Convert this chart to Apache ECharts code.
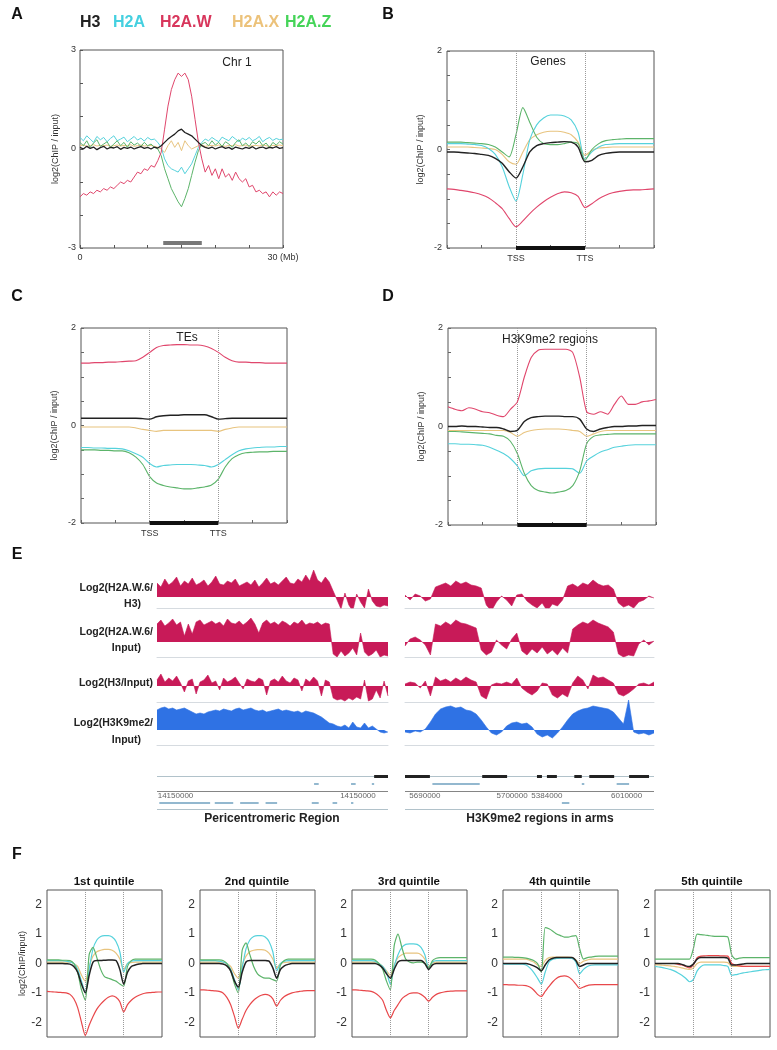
<!DOCTYPE html>
<html>
<head>
<meta charset="utf-8">
<script src="https://cdn.jsdelivr.net/npm/echarts@6/dist/echarts.min.js"></script>
<style>
  html, body { margin: 0; padding: 0; background: #fff; }
  #main { width: 777px; height: 1050px; }
</style>
</head>
<body>
<div id="main"></div>
<script>
// ---------- 数据 ----------
const histones = ['H3', 'H2A', 'H2A.W', 'H2A.X', 'H2A.Z']

// A: Chr 1, 0.5 Mb 一个点
const chr1H3 = [0.05,0.0,0.08,0.02,0.06,-0.02,0.04,0.08,0.0,0.05,0.03,0.07,-0.01,0.05,0.02,0.06,0.0,0.04,0.07,0.02,0.05,0.0,0.06,0.03,0.1,0.2,0.3,0.38,0.45,0.55,0.6,0.5,0.45,0.4,0.3,0.2,0.1,0.05,0.02,0.06,0.0,0.04,0.07,0.02,0.05,-0.01,0.06,0.03,0.0,0.05,0.02,0.07,0.0,0.04,0.06,0.01,0.05,0.03,0.07,0.02,0.04]
const chr1H2A = [0.35,0.25,0.4,0.3,0.2,0.38,0.28,0.35,0.22,0.32,0.4,0.25,0.3,0.36,0.22,0.3,0.38,0.27,0.33,0.24,0.35,0.28,0.3,0.2,0.05,-0.3,-0.5,-0.6,-0.65,-0.7,-0.55,-0.75,-0.6,-0.45,-0.2,0.05,0.2,0.3,0.25,0.35,0.28,0.22,0.36,0.3,0.25,0.38,0.3,0.22,0.33,0.27,0.35,0.25,0.3,0.38,0.22,0.3,0.35,0.26,0.32,0.28,0.3]
const chr1H2AW = [-1.45,-1.35,-1.4,-1.3,-1.35,-1.25,-1.3,-1.2,-1.25,-1.15,-1.2,-1.1,-1.0,-1.05,-0.95,-1.0,-0.85,-0.7,-0.75,-0.6,-0.65,-0.5,-0.55,-0.35,-0.1,0.6,1.3,1.8,2.1,2.3,2.2,2.3,2.1,1.6,0.9,0.2,-0.3,-0.7,-0.5,-0.8,-0.6,-0.9,-0.6,-0.85,-0.75,-0.95,-0.7,-0.9,-1.0,-0.9,-1.15,-1.1,-1.3,-1.25,-1.35,-1.3,-1.45,-1.3,-1.4,-1.3,-1.35]
const chr1H2AX = [0.1,0.12,0.08,0.1,0.13,0.09,0.11,0.1,0.12,0.08,0.1,0.12,0.09,0.11,0.1,0.13,0.08,0.1,0.12,0.09,0.1,0.11,0.08,0.05,0.0,-0.1,0.1,0.25,0.05,0.2,-0.05,0.25,0.1,0.0,0.05,0.1,0.12,0.08,0.1,0.11,0.09,0.12,0.1,0.08,0.11,0.1,0.13,0.09,0.1,0.12,0.08,0.1,0.11,0.09,0.12,0.1,0.08,0.11,0.1,0.12,0.1]
const chr1H2AZ = [0.2,0.1,0.25,0.05,0.18,0.28,0.08,0.15,0.22,0.05,0.15,0.25,0.1,0.2,0.05,0.22,0.12,0.18,0.08,0.2,0.1,0.15,0.05,0.0,-0.2,-0.6,-0.9,-1.2,-1.4,-1.6,-1.75,-1.5,-1.2,-0.8,-0.4,-0.05,0.15,0.2,0.1,0.25,0.12,0.2,0.08,0.22,0.15,0.05,0.2,0.28,0.1,0.18,0.08,0.22,0.15,0.25,0.1,0.18,0.05,0.2,0.12,0.22,0.15]
const centromereSpan = [12.3, 18]

// B: Genes (0-30, TSS=10, TTS=20)
const genesH3 = [-0.05,-0.05,-0.06,-0.07,-0.08,-0.1,-0.12,-0.18,-0.28,-0.45,-0.58,-0.35,-0.05,0.08,0.12,0.14,0.15,0.16,0.15,0.05,-0.25,-0.22,-0.12,-0.08,-0.06,-0.05,-0.05,-0.05,-0.05,-0.05,-0.05]
const genesH2A = [0.12,0.12,0.12,0.11,0.1,0.08,0.02,-0.1,-0.35,-0.75,-1.05,-0.5,0.2,0.5,0.64,0.7,0.7,0.68,0.6,0.35,-0.2,-0.05,0.05,0.1,0.11,0.12,0.12,0.12,0.12,0.12,0.12]
const genesH2AW = [-0.8,-0.81,-0.83,-0.85,-0.88,-0.92,-0.98,-1.08,-1.2,-1.4,-1.57,-1.45,-1.3,-1.17,-1.06,-0.97,-0.9,-0.86,-0.88,-0.95,-1.18,-1.1,-1.0,-0.93,-0.88,-0.85,-0.83,-0.82,-0.82,-0.81,-0.8]
const genesH2AX = [0.05,0.05,0.05,0.05,0.04,0.03,0.02,0.0,-0.1,-0.25,-0.3,-0.05,0.2,0.3,0.35,0.37,0.37,0.35,0.3,0.15,-0.12,-0.02,0.03,0.04,0.05,0.05,0.05,0.05,0.05,0.05,0.05]
const genesH2AZ = [0.15,0.15,0.15,0.14,0.13,0.12,0.1,0.05,-0.05,-0.15,0.3,0.85,0.55,0.25,0.12,0.1,0.1,0.12,0.15,0.12,-0.22,0.0,0.12,0.18,0.2,0.21,0.22,0.22,0.22,0.22,0.22]

// C: TEs
const tesH3 = [0.15,0.15,0.15,0.15,0.15,0.15,0.15,0.15,0.15,0.14,0.13,0.18,0.2,0.21,0.21,0.22,0.22,0.22,0.22,0.18,0.13,0.14,0.15,0.15,0.15,0.15,0.15,0.15,0.15,0.15,0.15]
const tesH2A = [-0.45,-0.45,-0.46,-0.46,-0.47,-0.47,-0.48,-0.52,-0.58,-0.65,-0.78,-0.85,-0.82,-0.81,-0.8,-0.8,-0.8,-0.81,-0.82,-0.85,-0.8,-0.7,-0.6,-0.52,-0.48,-0.46,-0.45,-0.44,-0.44,-0.43,-0.43]
const tesH2AW = [1.28,1.28,1.29,1.29,1.3,1.3,1.31,1.32,1.33,1.4,1.5,1.6,1.64,1.65,1.66,1.66,1.65,1.65,1.63,1.58,1.5,1.4,1.33,1.3,1.3,1.29,1.29,1.28,1.28,1.28,1.28]
const tesH2AX = [-0.03,-0.03,-0.03,-0.03,-0.03,-0.03,-0.03,-0.03,-0.05,-0.08,-0.1,-0.12,-0.1,-0.1,-0.1,-0.1,-0.1,-0.1,-0.1,-0.1,-0.12,-0.08,-0.05,-0.03,-0.03,-0.03,-0.03,-0.03,-0.03,-0.03,-0.03]
const tesH2AZ = [-0.5,-0.5,-0.5,-0.51,-0.51,-0.52,-0.52,-0.56,-0.65,-0.8,-1.05,-1.18,-1.23,-1.26,-1.28,-1.3,-1.3,-1.28,-1.26,-1.22,-1.1,-0.85,-0.68,-0.6,-0.56,-0.55,-0.54,-0.54,-0.53,-0.53,-0.53]

// D: H3K9me2 regions
const k9H3 = [0.0,0.0,0.01,0.0,0.0,-0.01,-0.02,-0.02,-0.05,-0.1,-0.08,0.1,0.18,0.2,0.21,0.21,0.21,0.2,0.2,0.15,-0.05,-0.1,-0.05,-0.02,0.0,0.0,0.01,0.01,0.02,0.02,0.02]
const k9H2A = [-0.35,-0.35,-0.36,-0.36,-0.37,-0.38,-0.42,-0.48,-0.55,-0.65,-0.8,-1.0,-0.9,-0.86,-0.85,-0.85,-0.85,-0.85,-0.86,-0.95,-0.7,-0.6,-0.52,-0.47,-0.42,-0.4,-0.38,-0.37,-0.37,-0.37,-0.37]
const k9H2AW = [0.4,0.35,0.32,0.38,0.35,0.3,0.28,0.23,0.2,0.35,0.5,1.0,1.4,1.55,1.57,1.57,1.57,1.57,1.5,1.0,0.3,0.25,0.3,0.25,0.45,0.62,0.45,0.45,0.5,0.52,0.55]
const k9H2AX = [-0.08,-0.08,-0.08,-0.08,-0.08,-0.08,-0.08,-0.08,-0.08,-0.12,-0.2,-0.12,-0.08,-0.06,-0.05,-0.05,-0.05,-0.06,-0.08,-0.1,-0.2,-0.15,-0.1,-0.08,-0.08,-0.08,-0.08,-0.08,-0.08,-0.08,-0.08]
const k9H2AZ = [-0.1,-0.1,-0.11,-0.12,-0.13,-0.14,-0.15,-0.18,-0.2,-0.3,-0.55,-0.95,-1.2,-1.3,-1.33,-1.35,-1.33,-1.3,-1.2,-0.9,-0.35,-0.2,-0.17,-0.16,-0.15,-0.15,-0.15,-0.15,-0.15,-0.15,-0.15]

// F: 五个五分位
const q1H3 = [0,0,0,0,0,-0.01,-0.02,-0.1,-0.3,-0.7,-1.0,-0.4,0.05,0.1,0.1,0.11,0.12,0.12,0.1,-0.2,-0.7,-0.3,-0.1,-0.05,-0.02,0,0,0,0,0,0]
const q1H2A = [0.1,0.1,0.1,0.1,0.1,0.08,0.05,0.0,-0.2,-0.6,-1.0,-0.2,0.5,0.8,0.92,0.95,0.95,0.9,0.75,0.4,-0.3,0.0,0.08,0.1,0.1,0.1,0.1,0.1,0.1,0.1,0.1]
const q1H2AW = [-0.95,-0.96,-0.97,-0.98,-0.99,-1.0,-1.05,-1.2,-1.5,-2.0,-2.45,-2.1,-1.8,-1.55,-1.38,-1.25,-1.15,-1.1,-1.15,-1.3,-1.65,-1.4,-1.25,-1.15,-1.08,-1.03,-1.0,-0.99,-0.98,-0.97,-0.97]
const q1H2AX = [0.05,0.05,0.05,0.05,0.05,0.05,0.05,0.0,-0.1,-0.4,-0.6,-0.1,0.25,0.4,0.45,0.48,0.48,0.45,0.35,0.15,-0.2,0.0,0.03,0.05,0.05,0.05,0.05,0.05,0.05,0.05,0.05]
const q1H2AZ = [0.12,0.12,0.12,0.12,0.11,0.11,0.1,0.0,-0.3,-0.9,-1.25,0.3,0.55,0.2,-0.2,-0.45,-0.5,-0.55,-0.6,-0.7,-0.78,-0.1,0.1,0.15,0.15,0.15,0.15,0.15,0.15,0.15,0.15]

const q2H3 = [0,0,0,0,0,0,-0.02,-0.08,-0.25,-0.6,-0.8,-0.3,0.05,0.1,0.1,0.1,0.1,0.1,0.08,-0.15,-0.5,-0.2,-0.08,-0.03,0,0,0,0,0,0,0]
const q2H2A = [0.1,0.1,0.1,0.1,0.1,0.08,0.05,0.0,-0.2,-0.55,-0.9,-0.15,0.5,0.8,0.92,0.95,0.95,0.9,0.75,0.4,-0.25,0.0,0.08,0.1,0.1,0.1,0.1,0.1,0.1,0.1,0.1]
const q2H2AW = [-0.9,-0.9,-0.91,-0.92,-0.93,-0.95,-1.0,-1.15,-1.4,-1.8,-2.2,-1.9,-1.6,-1.4,-1.25,-1.15,-1.08,-1.05,-1.08,-1.2,-1.45,-1.25,-1.12,-1.05,-1.0,-0.97,-0.95,-0.93,-0.92,-0.92,-0.92]
const q2H2AX = [0.05,0.05,0.05,0.05,0.05,0.05,0.05,0.0,-0.1,-0.35,-0.5,-0.05,0.25,0.4,0.45,0.47,0.47,0.45,0.35,0.15,-0.15,0.0,0.03,0.05,0.05,0.05,0.05,0.05,0.05,0.05,0.05]
const q2H2AZ = [0.12,0.12,0.12,0.12,0.12,0.12,0.1,0.0,-0.25,-0.7,-1.0,0.45,0.7,0.3,-0.1,-0.35,-0.45,-0.5,-0.5,-0.55,-0.6,-0.05,0.1,0.15,0.15,0.15,0.15,0.15,0.15,0.15,0.15]

const q3H3 = [0,0,0,0,0,0,0,-0.05,-0.15,-0.35,-0.5,-0.2,0.05,0.1,0.1,0.1,0.1,0.1,0.1,0.0,-0.2,-0.05,0,0,0,0,0,0,0,0,0]
const q3H2A = [0.1,0.1,0.1,0.1,0.1,0.1,0.08,0.0,-0.1,-0.3,-0.7,-0.1,0.3,0.55,0.65,0.67,0.67,0.65,0.55,0.3,-0.15,0.05,0.1,0.1,0.1,0.1,0.1,0.1,0.1,0.1,0.1]
const q3H2AW = [-0.9,-0.9,-0.91,-0.92,-0.93,-0.95,-1.0,-1.1,-1.25,-1.6,-1.85,-1.6,-1.4,-1.2,-1.1,-1.02,-1.0,-1.0,-1.05,-1.15,-1.28,-1.15,-1.05,-1.0,-0.97,-0.95,-0.94,-0.93,-0.93,-0.93,-0.93]
const q3H2AX = [0.05,0.05,0.05,0.05,0.05,0.05,0.05,0.0,-0.1,-0.25,-0.4,-0.05,0.2,0.3,0.35,0.35,0.35,0.35,0.3,0.15,-0.1,0.02,0.05,0.05,0.05,0.05,0.05,0.05,0.05,0.05,0.05]
const q3H2AZ = [0.15,0.15,0.15,0.15,0.15,0.15,0.12,0.0,-0.2,-0.6,-0.9,0.6,1.0,0.55,0.15,0.05,0.02,0.05,0.05,0.0,-0.15,0.1,0.18,0.2,0.2,0.2,0.2,0.2,0.2,0.2,0.2]

const q4H3 = [0,0,0,0,0,0,0,-0.03,-0.08,-0.15,-0.25,-0.05,0.12,0.18,0.2,0.2,0.2,0.2,0.2,0.1,-0.1,-0.05,0,0,0,0,0,0,0,0,0]
const q4H2A = [-0.02,-0.02,-0.02,-0.02,-0.02,-0.02,-0.05,-0.15,-0.3,-0.5,-0.7,-0.3,0.05,0.15,0.17,0.18,0.18,0.18,0.17,0.05,-0.35,-0.2,-0.1,-0.06,-0.05,-0.05,-0.05,-0.05,-0.05,-0.05,-0.05]
const q4H2AW = [-0.72,-0.72,-0.73,-0.73,-0.74,-0.74,-0.75,-0.8,-0.9,-1.05,-1.12,-0.95,-0.78,-0.62,-0.5,-0.44,-0.42,-0.45,-0.55,-0.7,-0.85,-0.8,-0.75,-0.73,-0.72,-0.72,-0.72,-0.72,-0.72,-0.72,-0.72]
const q4H2AX = [0.15,0.15,0.15,0.15,0.15,0.15,0.15,0.1,0.05,-0.05,-0.1,0.1,0.2,0.22,0.22,0.22,0.22,0.22,0.2,0.12,0.0,0.08,0.12,0.15,0.15,0.15,0.15,0.15,0.15,0.15,0.15]
const q4H2AZ = [0.22,0.22,0.22,0.21,0.21,0.2,0.18,0.15,0.1,0.0,-0.3,1.22,1.18,1.1,1.0,0.95,0.9,0.9,0.93,0.95,0.5,0.15,0.2,0.22,0.24,0.25,0.25,0.25,0.25,0.25,0.25]

const q5H3 = [0,0,0,0,0,0,0,-0.03,-0.08,-0.1,-0.02,0.15,0.2,0.2,0.2,0.2,0.2,0.2,0.2,0.18,-0.05,-0.05,-0.03,-0.02,0,0,0,0,0,0,0]
const q5H2A = [-0.1,-0.12,-0.14,-0.17,-0.2,-0.25,-0.32,-0.4,-0.5,-0.62,-0.55,-0.25,-0.1,-0.05,-0.05,-0.05,-0.05,-0.05,-0.07,-0.1,-0.4,-0.38,-0.35,-0.32,-0.3,-0.28,-0.26,-0.24,-0.22,-0.21,-0.2]
const q5H2AW = [0,0,0,0,0,0,-0.03,-0.05,-0.1,-0.15,-0.05,0.2,0.25,0.26,0.27,0.27,0.27,0.26,0.26,0.25,0.0,-0.05,-0.08,-0.1,-0.1,-0.1,-0.1,-0.1,-0.1,-0.1,-0.1]
const q5H2AX = [-0.05,-0.05,-0.06,-0.07,-0.08,-0.1,-0.12,-0.15,-0.18,-0.2,-0.15,0.0,0.05,0.05,0.05,0.05,0.05,0.05,0.05,0.03,-0.1,-0.1,-0.1,-0.1,-0.1,-0.1,-0.1,-0.1,-0.1,-0.1,-0.1]
const q5H2AZ = [0.15,0.15,0.15,0.15,0.15,0.15,0.15,0.15,0.15,0.15,0.5,1.0,0.98,0.97,0.95,0.93,0.92,0.92,0.92,0.9,0.3,0.15,0.18,0.2,0.2,0.2,0.2,0.2,0.2,0.2,0.2]

const geneBodySpan = [10, 20]
const quintileTitles = ['1st quintile', '2nd quintile', '3rd quintile', '4th quintile', '5th quintile']

// E: 基因组浏览器轨道 (左: 着丝粒周边, 右: 臂上 H3K9me2 区域)
const periH2AWvsH3 = [1.4,1.0,1.8,1.2,1.5,2.0,1.1,1.6,1.3,1.9,1.2,1.4,1.7,1.1,1.5,2.1,1.3,1.2,1.6,1.4,1.8,1.1,1.3,1.5,1.2,1.7,1.0,1.4,1.9,1.3,1.5,1.2,1.6,2.0,1.4,1.3,1.8,1.5,2.2,1.6,2.7,1.7,1.4,2.0,1.5,0.6,-0.3,-1.2,0.4,-0.8,-1.4,0.3,-0.5,-1.1,0.8,-0.4,-0.9,-1.0,-0.8,-0.9]
const periH2AWvsInput = [1.8,2.2,1.6,1.9,2.3,1.7,2.0,0.6,1.8,0.8,2.0,2.2,1.7,1.9,2.1,1.8,2.0,1.6,2.3,1.9,1.8,2.1,1.7,2.0,2.4,1.8,0.9,1.9,2.2,1.8,2.0,1.7,2.1,1.9,1.6,2.0,1.8,2.2,1.7,1.9,1.8,2.0,1.7,1.9,1.8,-1.2,-1.5,-0.9,-1.4,-1.1,-0.6,-1.3,0.9,-1.0,-1.4,-1.2,-0.8,-1.5,-1.3,-1.4]
const periH3vsInput = [0.6,1.2,0.4,0.8,0.5,1.0,0.3,-0.6,0.5,0.7,-0.8,0.4,0.6,1.1,0.3,0.5,-0.4,0.8,0.4,0.6,0.9,0.3,-0.3,0.7,0.5,0.4,0.8,0.6,-0.9,0.5,0.7,0.4,1.0,0.5,0.3,0.8,0.6,-0.5,0.7,0.4,0.9,0.5,-1.0,0.6,0.4,-1.2,-1.4,-1.3,-1.5,-1.2,-1.4,-1.1,-1.3,0.6,-1.5,-1.3,-0.4,-1.2,0.5,-1.0]
const periH3K9me2 = [2.0,2.2,2.3,2.1,2.2,2.0,2.1,2.2,2.0,1.8,1.6,1.7,1.6,1.8,1.9,2.0,1.9,2.1,2.0,1.9,2.1,2.2,2.0,2.1,2.2,2.0,1.9,2.0,1.8,1.9,2.0,2.1,1.9,2.0,1.9,1.8,1.9,1.7,1.9,1.8,1.7,1.5,1.3,1.0,0.7,0.6,0.4,0.3,0.5,0.2,0.8,0.3,0.2,0.7,0.2,0.4,0.1,-0.2,-0.3,-0.2]
const armH2AWvsH3 = [0.2,-0.3,0.3,0.1,-0.4,-0.2,1.0,1.2,1.4,1.1,1.6,1.3,1.5,1.2,1.1,0.9,-0.8,-1.4,-0.5,0.1,-0.3,-0.9,0.2,0.3,-0.4,-0.8,-1.1,-0.6,-1.4,-0.7,-0.9,-0.3,1.1,1.3,1.0,1.4,1.2,1.7,1.3,1.1,1.2,0.8,-0.6,-1.0,-0.8,-1.1,-0.5,-0.3,0.1,-0.1]
const armH2AWvsInput = [-0.4,0.3,0.5,0.2,-0.3,-1.3,1.8,1.6,2.0,1.7,2.2,1.9,1.8,1.6,1.4,-0.8,-1.3,-1.0,0.2,-0.3,-0.7,0.3,0.9,-0.9,-1.3,-0.7,-1.1,-0.5,-1.2,-0.8,-1.3,-0.6,-1.1,1.3,1.7,2.0,1.8,2.2,1.9,1.7,1.5,1.0,-1.2,-1.5,-1.3,-1.4,-0.2,0.2,-0.3,0.1]
const armH3vsInput = [0.2,0.4,0.3,-0.2,0.5,-1.0,0.9,0.5,0.7,0.4,0.8,0.5,0.9,0.6,0.4,-1.0,-1.3,0.1,0.3,0.2,0.4,0.2,0.8,-0.2,-0.6,-0.9,-0.5,0.3,0.2,-0.9,-1.2,-0.8,-1.1,0.3,1.0,0.6,-0.3,1.1,0.8,0.9,0.6,0.3,-0.8,-1.0,-0.7,-0.3,0.2,0.3,0.1,0.4]
const armH3K9me2 = [-0.2,-0.3,-0.1,-0.2,0.1,0.8,1.6,2.1,2.3,2.4,2.2,2.3,2.0,1.9,1.6,1.0,0.3,-0.3,-0.5,-0.2,0.4,0.7,0.8,0.6,0.7,0.3,-0.4,-0.7,-0.5,-0.8,-0.3,0.3,1.0,1.6,1.9,2.1,2.2,2.4,2.3,2.2,2.1,1.8,1.2,0.6,3.0,-0.2,-0.4,-0.3,-0.5,-0.3]

// E: 注释轨道 (按区域宽度的比例)
const periGeneBlocks = [[0.94, 1.0]]
const periTeMarks = [[0.68, 0.7], [0.84, 0.86], [0.93, 0.94]]
const periLowerBlocks = [[0.01, 0.23], [0.25, 0.33], [0.36, 0.44], [0.47, 0.52], [0.67, 0.7], [0.76, 0.78], [0.84, 0.85]]
const periCoordLabels = [['14150000', 0.08], ['14150000', 0.87]]
const armGeneBlocks = [[0.0, 0.1], [0.31, 0.41], [0.53, 0.55], [0.57, 0.61], [0.68, 0.71], [0.74, 0.84], [0.9, 0.98]]
const armTeMarks = [[0.11, 0.3], [0.71, 0.72], [0.85, 0.9]]
const armLowerBlocks = [[0.63, 0.66]]
const armCoordLabels = [['5690000', 0.08], ['5700000', 0.43], ['5384000', 0.57], ['6010000', 0.89]]

// ---------- 样式 ----------
const FONT = 'Liberation Sans'
const lineColors = { 'H3': '#222222', 'H2A': '#56d2dc', 'H2A.W': '#e0466c', 'H2A.X': '#e8c47f', 'H2A.Z': '#5cb46a' }
const legendColors = { 'H3': '#222', 'H2A': '#45d0e0', 'H2A.W': '#d8365c', 'H2A.X': '#ecc27a', 'H2A.Z': '#45d458' }
const drawOrder = ['H2A.X', 'H2A', 'H2A.Z', 'H2A.W', 'H3']
const trackRed = '#c81a58'
const trackBlue = '#2f72e4'

const grids = [], xAxes = [], yAxes = [], series = [], graphics = []

function tickLabel(size) {
  return { color: '#333', fontSize: size, fontFamily: FONT }
}

// 带边框的面板
function addFramed(box, xAxis, yAxis) {
  const gi = grids.length
  grids.push({ left: box[0], top: box[1], width: box[2], height: box[3], show: true,
    borderColor: '#555', borderWidth: 1, backgroundColor: 'transparent', outerBoundsMode: 'none' })
  xAxes.push(Object.assign({ gridIndex: gi, type: 'value', position: 'bottom',
    axisLine: { show: false, onZero: false }, splitLine: { show: false } }, xAxis))
  yAxes.push(Object.assign({ gridIndex: gi, type: 'value', position: 'left',
    axisLine: { show: false, onZero: false }, splitLine: { show: false } }, yAxis))
  return gi
}

// 无边框的轨道
function addPlain(box, xAxis, yAxis) {
  const gi = grids.length
  grids.push({ left: box[0], top: box[1], width: box[2], height: box[3], show: false, outerBoundsMode: 'none' })
  xAxes.push(Object.assign({ gridIndex: gi, type: 'value' }, xAxis))
  yAxes.push(Object.assign({ gridIndex: gi, type: 'value', show: false }, yAxis))
  return gi
}

function addProfiles(gi, sets, step, opts) {
  drawOrder.forEach((name, k) => {
    const values = sets[name]
    const w = (opts.width || 1.1) + (name === 'H3' ? 0.3 : 0)
    const s = {
      type: 'line', name, xAxisIndex: gi, yAxisIndex: gi,
      data: values.map((v, i) => [i * step, v]),
      symbol: 'none', smooth: opts.smooth || false,
      lineStyle: { color: (opts.colors && opts.colors[name]) || lineColors[name], width: w },
      z: 2 + k, silent: true
    }
    if (k === 0 && opts.marks) {
      s.markLine = { silent: true, symbol: 'none', label: { show: false },
        lineStyle: { type: 'dotted', color: '#9a9a9a', width: 1 },
        data: opts.marks.map(v => ({ xAxis: v })) }
    }
    series.push(s)
  })
}

function addBar(gi, span, y, color) {
  series.push({ type: 'line', xAxisIndex: gi, yAxisIndex: gi, data: [[span[0], y], [span[1], y]],
    symbol: 'none', clip: false, z: 10, silent: true, lineStyle: { color, width: 4, cap: 'butt' } })
}

function addText(text, x, y, font, color, align) {
  graphics.push({ type: 'text', x, y, silent: true,
    style: { text, font, fill: color || '#111', textAlign: align || 'center', textVerticalAlign: 'middle',
      align: align || 'center', verticalAlign: 'middle' } })
}

// ---------- A ----------
const gA = addFramed([80, 50, 203, 198],
  { min: 0, max: 30, interval: 5,
    axisTick: { inside: true, length: 3, lineStyle: { color: '#555' } },
    axisLabel: Object.assign(tickLabel(9), { margin: 5, formatter: v => v === 0 ? '0' : (v === 30 ? '30 (Mb)' : '') }) },
  { min: -3, max: 3, interval: 1,
    axisTick: { inside: true, length: 3, lineStyle: { color: '#555' } },
    axisLabel: Object.assign(tickLabel(9), { margin: 4, formatter: v => (v === 3 || v === 0 || v === -3) ? String(v) : '' }),
    name: 'log2(ChIP / input)', nameLocation: 'middle', nameGap: 20, nameRotate: 90,
    nameTextStyle: { fontSize: 9, color: '#333', fontFamily: FONT } })
addProfiles(gA, { 'H3': chr1H3, 'H2A': chr1H2A, 'H2A.W': chr1H2AW, 'H2A.X': chr1H2AX, 'H2A.Z': chr1H2AZ }, 0.5, { width: 1 })
addBar(gA, centromereSpan, -2.85, '#777')

// ---------- B, C, D ----------
function profileAxes(showTss) {
  return [
    { min: 0, max: 30, interval: 5,
      axisTick: { inside: true, length: 3, lineStyle: { color: '#666' } },
      axisLabel: Object.assign(tickLabel(9), { margin: 6, formatter: v => !showTss ? '' : (v === 10 ? 'TSS' : (v === 20 ? 'TTS' : '')) }) },
    { min: -2, max: 2, interval: 0.5,
      axisTick: { inside: true, length: 3, lineStyle: { color: '#666' } },
      axisLabel: Object.assign(tickLabel(9), { margin: 5, formatter: v => (v === 2 || v === 0 || v === -2) ? String(v) : '' }),
      name: 'log2(ChIP / input)', nameLocation: 'middle', nameGap: 22, nameRotate: 90,
      nameTextStyle: { fontSize: 9, color: '#333', fontFamily: FONT } }
  ]
}

const axB = profileAxes(true)
const gB = addFramed([447, 51, 207, 197], axB[0], axB[1])
addProfiles(gB, { 'H3': genesH3, 'H2A': genesH2A, 'H2A.W': genesH2AW, 'H2A.X': genesH2AX, 'H2A.Z': genesH2AZ }, 1, { smooth: 0.25, marks: geneBodySpan })
addBar(gB, geneBodySpan, -2, '#111')

const axC = profileAxes(true)
const gC = addFramed([81, 328, 206, 195], axC[0], axC[1])
addProfiles(gC, { 'H3': tesH3, 'H2A': tesH2A, 'H2A.W': tesH2AW, 'H2A.X': tesH2AX, 'H2A.Z': tesH2AZ }, 1, { smooth: 0.25, marks: geneBodySpan })
addBar(gC, geneBodySpan, -2, '#111')

const axD = profileAxes(false)
const gD = addFramed([448, 328, 208, 197], axD[0], axD[1])
addProfiles(gD, { 'H3': k9H3, 'H2A': k9H2A, 'H2A.W': k9H2AW, 'H2A.X': k9H2AX, 'H2A.Z': k9H2AZ }, 1, { smooth: 0.25, marks: geneBodySpan })
addBar(gD, geneBodySpan, -2, '#111')

// ---------- E ----------
// 每条轨道: [顶部, 高度, 最小值, 最大值], 1 单位 = 10px
const trackBoxes = [[564, 44, -1.1, 3.3], [612, 45, -1.5, 3.0], [670, 32, -1.6, 1.6], [700, 45, -1.5, 3.0]]
const periTracks = [periH2AWvsH3, periH2AWvsInput, periH3vsInput, periH3K9me2]
const armTracks = [armH2AWvsH3, armH2AWvsInput, armH3vsInput, armH3K9me2]

function addTrack(left, width, box, values, color) {
  const gi = addPlain([left, box[0], width, box[1]],
    { min: 0, max: values.length - 1, axisLine: { show: true, onZero: false, lineStyle: { color: '#d6dbe0', width: 1 } },
      axisTick: { show: false }, axisLabel: { show: false }, splitLine: { show: false } },
    { min: box[2], max: box[3] })
  series.push({ type: 'line', xAxisIndex: gi, yAxisIndex: gi, data: values.map((v, i) => [i, v]),
    symbol: 'none', silent: true, lineStyle: { color, width: 0.6 }, areaStyle: { color, opacity: 1 } })
}

trackBoxes.forEach((box, k) => {
  const color = k === 3 ? trackBlue : trackRed
  addTrack(157, 231, box, periTracks[k], color)
  addTrack(405, 249, box, armTracks[k], color)
})

function addAnnotation(left, width, geneBlocks, teMarks, lowerBlocks, coordLabels) {
  const gi = addPlain([left, 770, width, 42],
    { min: 0, max: 1, show: false },
    { min: 0, max: 42, inverse: true })
  const seg = (a, b, y) => ({ coords: [[a, y], [b, y]] })
  series.push({ type: 'lines', coordinateSystem: 'cartesian2d', xAxisIndex: gi, yAxisIndex: gi, silent: true,
    lineStyle: { color: '#8fa7b3', width: 0.7, opacity: 1 },
    data: [seg(0, 1, 6), seg(0, 1, 39)] })
  series.push({ type: 'lines', coordinateSystem: 'cartesian2d', xAxisIndex: gi, yAxisIndex: gi, silent: true,
    lineStyle: { color: '#666', width: 0.8, opacity: 1 },
    data: [seg(0, 1, 21)] })
  series.push({ type: 'lines', coordinateSystem: 'cartesian2d', xAxisIndex: gi, yAxisIndex: gi, silent: true,
    lineStyle: { color: '#222', width: 3, opacity: 1 },
    data: geneBlocks.map(b => seg(b[0], b[1], 6)) })
  series.push({ type: 'lines', coordinateSystem: 'cartesian2d', xAxisIndex: gi, yAxisIndex: gi, silent: true,
    lineStyle: { color: '#93b8cf', width: 2, opacity: 1 },
    data: teMarks.map(b => seg(b[0], b[1], 14)).concat(lowerBlocks.map(b => seg(b[0], b[1], 33))) })
  series.push({ type: 'scatter', xAxisIndex: gi, yAxisIndex: gi, silent: true, symbolSize: 1,
    itemStyle: { opacity: 0 },
    label: { show: true, position: 'inside', formatter: '{b}', color: '#666', fontSize: 8, fontFamily: FONT, opacity: 1 },
    data: coordLabels.map(c => ({ name: c[0], value: [c[1], 26] })) })
}
addAnnotation(157, 231, periGeneBlocks, periTeMarks, periLowerBlocks, periCoordLabels)
addAnnotation(405, 249, armGeneBlocks, armTeMarks, armLowerBlocks, armCoordLabels)

// ---------- F ----------
const quintileSets = [
  { 'H3': q1H3, 'H2A': q1H2A, 'H2A.W': q1H2AW, 'H2A.X': q1H2AX, 'H2A.Z': q1H2AZ },
  { 'H3': q2H3, 'H2A': q2H2A, 'H2A.W': q2H2AW, 'H2A.X': q2H2AX, 'H2A.Z': q2H2AZ },
  { 'H3': q3H3, 'H2A': q3H2A, 'H2A.W': q3H2AW, 'H2A.X': q3H2AX, 'H2A.Z': q3H2AZ },
  { 'H3': q4H3, 'H2A': q4H2A, 'H2A.W': q4H2AW, 'H2A.X': q4H2AX, 'H2A.Z': q4H2AZ },
  { 'H3': q5H3, 'H2A': q5H2A, 'H2A.W': q5H2AW, 'H2A.X': q5H2AX, 'H2A.Z': q5H2AZ }
]
const quintileLefts = [47, 200, 352, 503, 655]

quintileSets.forEach((sets, k) => {
  const gi = addFramed([quintileLefts[k], 890, 115, 147],
    { min: 0, max: 30, interval: 5, axisTick: { show: false }, axisLabel: { show: false } },
    Object.assign({ min: -2.5, max: 2.5, interval: 0.5,
      axisTick: { show: false },
      axisLabel: Object.assign(tickLabel(12), { margin: 5, formatter: v => Number.isInteger(v) ? String(v) : '' }) },
      k === 0 ? { name: 'log2(ChIP/input)', nameLocation: 'middle', nameGap: 16, nameRotate: 90,
        nameTextStyle: { fontSize: 9, color: '#333', fontFamily: FONT } } : {}))
  addProfiles(gi, sets, 1, { smooth: 0.25, marks: geneBodySpan, width: 1.2, colors: { 'H2A.W': '#e8474a' } })
  addText(quintileTitles[k], quintileLefts[k] + 57, 882, 'bold 11.5px ' + FONT)
})

// ---------- 文字 ----------
addText('A', 17, 15, 'bold 16px ' + FONT)
addText('B', 388, 15, 'bold 16px ' + FONT)
addText('C', 17, 297, 'bold 16px ' + FONT)
addText('D', 388, 297, 'bold 16px ' + FONT)
addText('E', 17, 555, 'bold 16px ' + FONT)
addText('F', 17, 855, 'bold 16px ' + FONT)

// 图例
const legendX = [80, 113, 160, 232, 285]
histones.forEach((name, k) => addText(name, legendX[k], 23, 'bold 16px ' + FONT, legendColors[name], 'left'))

addText('Chr 1', 237, 63, '12px ' + FONT, '#222')
addText('Genes', 548, 62, '12px ' + FONT, '#222')
addText('TEs', 187, 338, '12px ' + FONT, '#222')
addText('H3K9me2 regions', 550, 340, '12px ' + FONT, '#222')

const eLabel = 'bold 10.5px ' + FONT
addText('Log2(H2A.W.6/', 153, 588, eLabel, '#222', 'right')
addText('H3)', 141, 604, eLabel, '#222', 'right')
addText('Log2(H2A.W.6/', 153, 632, eLabel, '#222', 'right')
addText('Input)', 141, 648, eLabel, '#222', 'right')
addText('Log2(H3/Input)', 153, 683, eLabel, '#222', 'right')
addText('Log2(H3K9me2/', 153, 723, eLabel, '#222', 'right')
addText('Input)', 141, 740, eLabel, '#222', 'right')
addText('Pericentromeric Region', 272, 819, 'bold 12px ' + FONT, '#222')
addText('H3K9me2 regions in arms', 540, 819, 'bold 12px ' + FONT, '#222')

// ---------- 渲染 ----------
const chart = echarts.init(document.getElementById('main'), null, { renderer: 'canvas' })
chart.setOption({
  animation: false,
  backgroundColor: '#fff',
  grid: grids,
  xAxis: xAxes,
  yAxis: yAxes,
  series,
  graphic: { elements: graphics }
})
</script>
</body>
</html>
